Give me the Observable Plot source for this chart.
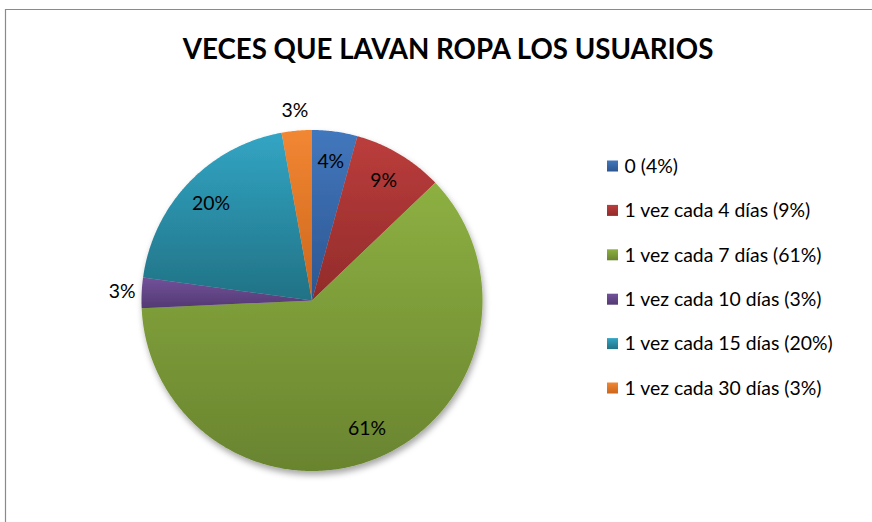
<!DOCTYPE html>
<html><head><meta charset="utf-8">
<script src="https://cdn.jsdelivr.net/npm/d3@7"></script>
<script src="https://cdn.jsdelivr.net/npm/@observablehq/plot@0.6"></script>
<style>body{margin:0;background:#fff} svg{display:block}</style>
</head><body><div id="chart"></div>
<script>
const title = "VECES QUE LAVAN ROPA LOS USUARIOS";
const categories = ["0", "1 vez cada 4 días", "1 vez cada 7 días", "1 vez cada 10 días", "1 vez cada 15 días", "1 vez cada 30 días"];
const counts = [3, 6, 43, 2, 14, 2];
const colorTop = ["#4277bd", "#bb3d3c", "#8db042", "#72519a", "#32a5c4", "#f28733"];
const colorBottom = ["#2c5690", "#922b2a", "#69842f", "#533a73", "#217285", "#cc661c"];

const W = 872, H = 522;
const cx = 311.5, cy = 300, R = 170.5;
const total = d3.sum(counts);
const arcs = d3.pie().sort(null).value(d => d)(counts);
const slices = categories.map((name, i) => ({
  i, name, value: counts[i], share: counts[i] / total,
  start: arcs[i].startAngle, end: arcs[i].endAngle,
  pct: Math.round(100 * counts[i] / total) + "%"
}));

const wedgePts = slices.flatMap(s => {
  const pts = [{key: s.i, x: cx, y: cy}];
  const n = Math.max(2, Math.ceil((s.end - s.start) / (Math.PI / 360)));
  for (let k = 0; k <= n; k++) {
    const a = s.start + (s.end - s.start) * k / n;
    pts.push({key: s.i, x: cx + R * Math.sin(a), y: cy - R * Math.cos(a)});
  }
  return pts;
});

const labels = slices.map(s => {
  const a = (s.start + s.end) / 2;
  const r = s.share < 0.035 ? 1.115 * R : 0.82 * R;
  return {text: s.pct, x: cx + r * Math.sin(a), y: cy - r * Math.cos(a)};
});

const legendX = 607, legendY0 = 166, legendStep = 44.4;
const legend = slices.map(s => ({key: s.i, text: `${s.name} (${s.pct})`, y: legendY0 + s.i * legendStep}));

const chart = Plot.plot({
  width: W, height: H, margin: 0,
  x: {domain: [0, W], range: [0, W], axis: null},
  y: {domain: [0, H], range: [0, H], axis: null},
  color: {type: "identity"},
  style: {fontFamily: "Lato, 'Open Sans', sans-serif", background: "#fff", color: "#000"},
  marks: [
    Plot.ruleX([5], {y1: 9, y2: H, stroke: "#8a8a8a", strokeWidth: 1.2}),
    Plot.ruleY([9], {x1: 5, x2: W, stroke: "#8a8a8a", strokeWidth: 1.2}),
    Plot.line(wedgePts, {x: "x", y: "y", z: "key", fill: d => `url(#grad${d.key})`, stroke: "none", curve: "linear-closed"}),
    Plot.text(labels, {x: "x", y: "y", text: "text", fontSize: 19.4, fill: "#000"}),
    Plot.text([title], {x: 447.5, y: 50, text: d => d, fontSize: 27.7, fontWeight: "bold", fill: "#000"}),
    Plot.rect(legend, {x1: legendX, x2: legendX + 11, y1: d => d.y - 5.5, y2: d => d.y + 5.5, fill: d => `url(#grad${d.key})`}),
    Plot.text(legend, {x: legendX + 17, y: "y", text: "text", textAnchor: "start", fontSize: 19.4, fill: "#000"})
  ]
});

const ns = "http://www.w3.org/2000/svg";
const defs = document.createElementNS(ns, "defs");
colorTop.forEach((c, i) => {
  const g = document.createElementNS(ns, "linearGradient");
  g.setAttribute("id", "grad" + i);
  g.setAttribute("x1", "0"); g.setAttribute("y1", "0");
  g.setAttribute("x2", "0"); g.setAttribute("y2", "1");
  [[0, c], [1, colorBottom[i]]].forEach(([o, col]) => {
    const st = document.createElementNS(ns, "stop");
    st.setAttribute("offset", o);
    st.setAttribute("stop-color", col);
    g.appendChild(st);
  });
  defs.appendChild(g);
});
const f = document.createElementNS(ns, "filter");
f.setAttribute("id", "pieShadow");
f.setAttribute("x", "-20%"); f.setAttribute("y", "-20%");
f.setAttribute("width", "140%"); f.setAttribute("height", "140%");
const ds = document.createElementNS(ns, "feDropShadow");
ds.setAttribute("dx", "1.5"); ds.setAttribute("dy", "4");
ds.setAttribute("stdDeviation", "3");
ds.setAttribute("flood-color", "#000");
ds.setAttribute("flood-opacity", "0.35");
f.appendChild(ds);
defs.appendChild(f);
chart.insertBefore(defs, chart.firstChild);
const pieG = chart.querySelector('g[aria-label="line"]');
if (pieG) pieG.setAttribute("filter", "url(#pieShadow)");

document.getElementById("chart").appendChild(chart);
</script>
</body></html>
